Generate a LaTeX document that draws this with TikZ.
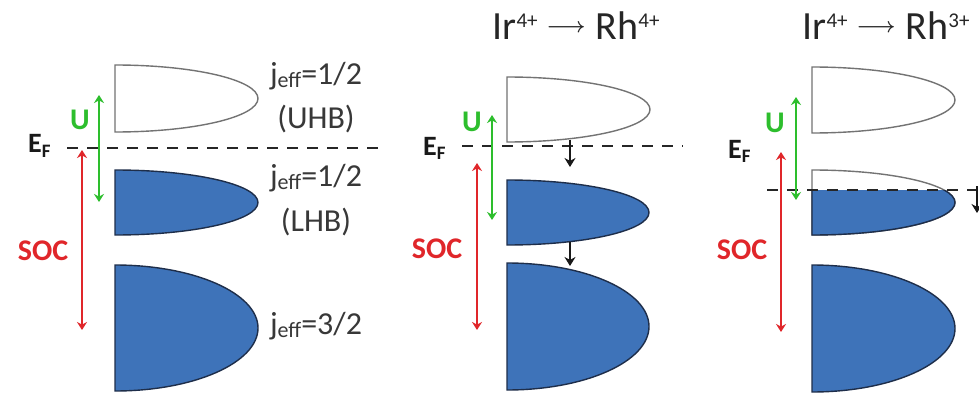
\documentclass[tikz,border=0pt]{standalone}
\usepackage{fontspec}
\setmainfont{Carlito}
\usetikzlibrary{arrows.meta}
\definecolor{bandblue}{HTML}{3E73B9}
\definecolor{bandline}{HTML}{1E2E4A}
\definecolor{ugreen}{HTML}{2DBE2D}
\definecolor{socred}{HTML}{E0262A}
\definecolor{txt}{HTML}{383838}
\newcommand\bandshape[4]{(#1,#2) arc[start angle=-90,end angle=90,x radius=#4,y radius={(#3-#2)/2}] -- cycle}
\newcommand\jeff[1]{j\raisebox{-0.22ex}{\fontsize{22}{22}\selectfont eff}=#1}
\newcommand\supx[1]{\raisebox{12.5pt}{\fontsize{21}{21}\selectfont #1}}
\newcommand\tarrow{\hspace{9pt}\raisebox{7pt}{\resizebox{39pt}{!}{\boldmath$\longrightarrow$}}\hspace{10pt}}
\tikzset{
  filled/.style={fill=bandblue,draw=bandline,line width=1.4pt},
  empty/.style={fill=white,draw=black!55,line width=1.4pt},
  fermi/.style={draw=black!85,line width=2.2pt,dash pattern=on 11pt off 9pt},
  uarrow/.style={draw=ugreen,line width=1.6pt,{Stealth[length=8pt,width=10pt]}-{Stealth[length=8pt,width=10pt]}},
  socarrow/.style={draw=socred,line width=1.6pt,{Stealth[length=8pt,width=10pt]}-{Stealth[length=8pt,width=10pt]}},
  movearrow/.style={draw=black!90,line width=1.5pt,-{Stealth[length=9pt,width=11pt]}},
  lbl/.style={text=txt,font=\fontsize{32}{36}\selectfont,inner sep=0pt,align=center},
  ttl/.style={text=black!85,font=\fontsize{40}{44}\selectfont,inner sep=0pt,anchor=base},
  ulbl/.style={text=ugreen,font=\bfseries\fontsize{30}{32}\selectfont,inner sep=0pt},
  soclbl/.style={text=socred,font=\bfseries\fontsize{30}{32}\selectfont,inner sep=0pt},
  eflbl/.style={text=black!90,font=\bfseries\fontsize{28}{30}\selectfont,inner sep=0pt},
}
\begin{document}
\begin{tikzpicture}[x=1pt,y=-1pt]
\useasboundingbox[fill=white] (0,0) rectangle (979,393);
% ---------- panel 1 ----------
\draw[empty] \bandshape{115}{65}{132}{143};
\draw[filled] \bandshape{115}{170}{235}{143};
\draw[filled] \bandshape{115}{265}{391}{143};
\coordinate (f1a) at (67,148); \coordinate (f1b) at (382,148);
\draw[fermi] (f1a) -- (f1b);
\node[eflbl,anchor=base west] (ef1) at (28,153) {E\raisebox{-0.35ex}{\fontsize{19}{19}\selectfont F}};
\coordinate (u1a) at (99,95); \coordinate (u1b) at (99,202);
\draw[uarrow] (u1a) -- (u1b);
\node[ulbl] (u1) at (80,120) {U};
\coordinate (s1a) at (82,150); \coordinate (s1b) at (82,330);
\draw[socarrow] (s1a) -- (s1b);
\node[soclbl] (soc1) at (43,251) {SOC};
\node[lbl] (j1) at (316,76) {\jeff{1/2}};
\node[lbl] (uhb) at (316,119) {(UHB)};
\node[lbl] (j2) at (316,178) {\jeff{1/2}};
\node[lbl] (lhb) at (316,222) {(LHB)};
\node[lbl] (j3) at (316,326) {\jeff{3/2}};
% ---------- panel 2 ----------
\node[ttl] (t2) at (576,40) {Ir\supx{4+}\tarrow Rh\supx{4+}};
\draw[empty] \bandshape{507}{77}{142}{143};
\draw[filled] \bandshape{507}{180}{245}{142};
\draw[filled] \bandshape{507}{263}{390}{142};
\coordinate (f2a) at (462,146); \coordinate (f2b) at (683,146);
\draw[fermi] (f2a) -- (f2b);
\node[eflbl,anchor=base west] (ef2) at (423,155) {E\raisebox{-0.35ex}{\fontsize{19}{19}\selectfont F}};
\coordinate (a2a) at (570,140); \coordinate (a2b) at (570,167);
\draw[movearrow] (a2a) -- (a2b);
\coordinate (a3a) at (570,242); \coordinate (a3b) at (570,266);
\draw[movearrow] (a3a) -- (a3b);
\coordinate (u2a) at (492,115); \coordinate (u2b) at (492,220);
\draw[uarrow] (u2a) -- (u2b);
\node[ulbl] (u2) at (472,122) {U};
\coordinate (s2a) at (477,163); \coordinate (s2b) at (477,330);
\draw[socarrow] (s2a) -- (s2b);
\node[soclbl] (soc2) at (437,249) {SOC};
% ---------- panel 3 ----------
\node[ttl] (t3) at (886,40) {Ir\supx{4+}\tarrow Rh\supx{3+}};
\draw[empty] \bandshape{812}{67}{133}{143};
\draw[empty] \bandshape{812}{170}{235}{143};
\begin{scope}
\clip (800,190) rectangle (979,245);
\draw[filled] \bandshape{812}{170}{235}{143};
\end{scope}
\draw[filled] \bandshape{812}{265}{392}{143};
\coordinate (f3a) at (767,190); \coordinate (f3b) at (979,190);
\draw[fermi] (f3a) -- (f3b);
\node[eflbl,anchor=base west] (ef3) at (728,158) {E\raisebox{-0.35ex}{\fontsize{19}{19}\selectfont F}};
\coordinate (a4a) at (977,186); \coordinate (a4b) at (977,213);
\draw[movearrow] (a4a) -- (a4b);
\coordinate (u3a) at (796,97); \coordinate (u3b) at (796,200);
\draw[uarrow] (u3a) -- (u3b);
\node[ulbl] (u3) at (775,123) {U};
\coordinate (s3a) at (781,152); \coordinate (s3b) at (781,332);
\draw[socarrow] (s3a) -- (s3b);
\node[soclbl] (soc3) at (742,250) {SOC};
\end{tikzpicture}
\end{document}
